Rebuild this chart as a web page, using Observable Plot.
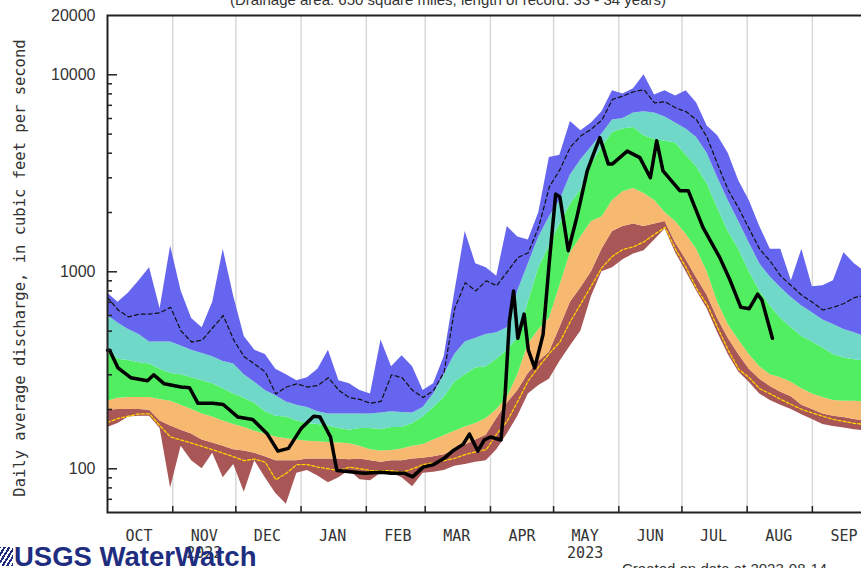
<!DOCTYPE html>
<html><head><meta charset="utf-8">
<script src="https://cdn.jsdelivr.net/npm/d3@7"></script>
<script src="https://cdn.jsdelivr.net/npm/@observablehq/plot@0.6"></script>
<style>
html,body{margin:0;padding:0;background:#fff;overflow:hidden;width:861px;height:568px}
#wrap{position:relative;width:861px;height:568px;overflow:hidden;background:#fff}
#chart{position:absolute;left:0;top:0;width:875px;height:568px}
#chart svg{max-width:none !important;width:875px !important;height:568px !important;display:block}
.title{position:absolute;left:0;width:896px;text-align:center;top:-8px;line-height:15px;font-size:15px;font-family:"Liberation Sans",Arial,sans-serif;color:#333;white-space:nowrap}
.ylab{position:absolute;left:-210px;top:259px;width:460px;height:18px;line-height:18px;text-align:center;transform:rotate(-90deg);font-family:"DejaVu Sans Mono",monospace;font-size:15.5px;color:#333;white-space:nowrap}
.mark{position:absolute;left:0;top:547px;width:13px;height:19px;background:repeating-linear-gradient(-58deg,#1f2d80 0 2px,transparent 2px 4px)}
.logo{position:absolute;left:14px;top:543px;line-height:27.5px;font-weight:bold;font-size:27.5px;font-family:"Liberation Sans",Arial,sans-serif;color:#1f2d80;letter-spacing:0;white-space:nowrap}
.created{position:absolute;left:622px;top:561px;line-height:15px;font-size:15px;font-family:"Liberation Sans",Arial,sans-serif;color:#333;white-space:nowrap}
</style></head><body>
<div id="wrap">
<div id="chart"></div>
<div class="title">(Drainage area: 650 square miles, length of record: 33 - 34 years)</div>
<div class="ylab">Daily average discharge, in cubic feet per second</div>
<div class="mark"></div>
<div class="logo">USGS WaterWatch</div>
<div class="created">Created on data at 2023-08-14</div>
</div>
<script>
// Day offsets from 2022-10-01 (water year 2023)
const gridDays = [0,5,10,15,20,25,30,35,40,45,50,55,60,65,70,75,80,85,90,95,100,105,110,115,120,125,130,135,140,145,150,155,160,165,170,175,180,185,190,195,200,205,210,215,220,225,230,235,240,245,250,255,260,265,270,275,280,285,290,295,300,305,310,315,320,325,330,335,340,345,350,355,360,365];

const maxQ = [780,700,780,900,1050,650,1350,800,580,520,
  700,1300,750,470,400,380,320,300,280,290,
  320,400,280,270,250,240,450,330,375,330,
  250,270,370,780,1600,1100,1050,950,1700,1500,
  1450,2000,3800,3900,5800,5200,5700,6500,8300,8000,
  8500,10000,7900,8300,7800,8300,7200,5500,4900,4000,
  2900,2300,1700,1300,1300,900,1300,840,850,900,
  1250,1100,1000,950];
const p95 = [740,640,590,610,610,620,660,500,440,450,
  520,600,450,370,340,310,240,260,270,260,
  265,290,250,230,225,215,220,300,290,250,
  230,250,310,650,880,800,900,850,1000,1180,
  1250,1700,2700,3300,4300,4900,5300,5900,7500,7800,
  8200,8400,7200,7300,6800,6500,5900,4800,3500,2600,
  2100,1650,1300,1130,950,850,760,700,640,660,
  690,740,760,760];
const p90 = [600,550,510,480,440,440,440,420,400,385,
  370,350,340,300,275,250,235,218,210,205,
  195,190,190,190,190,190,192,195,193,192,
  205,240,300,380,440,460,480,490,520,800,
  1100,1500,1900,2300,3100,3700,4300,5000,5900,6000,
  6400,6500,6400,6100,5700,5300,4800,4000,3000,2300,
  1800,1400,1100,940,830,740,670,620,570,540,
  510,490,470,460];
const p75 = [410,360,355,345,340,320,305,300,290,280,
  270,255,240,228,215,195,185,183,175,170,
  168,165,160,157,160,160,158,162,162,170,
  183,205,230,275,300,325,330,360,400,460,
  700,1050,1350,1750,2200,2600,3500,4300,5100,5300,
  5400,4900,4700,4600,4500,3900,3400,2800,2100,1600,
  1300,1000,800,670,580,520,470,440,410,380,
  365,358,352,350];
const p25 = [220,228,230,230,230,225,220,210,200,190,
  183,175,168,162,155,150,145,142,140,138,
  137,136,135,134,130,125,123,124,126,130,
  133,140,147,155,163,170,180,200,230,300,
  430,510,580,850,1250,1500,1800,1900,2300,2550,
  2650,2500,2300,2000,1800,1550,1300,1000,700,540,
  450,380,330,300,290,275,255,240,230,222,
  220,220,218,215];
const p10 = [198,200,200,200,198,175,165,157,150,140,
  135,130,125,123,120,115,110,110,110,112,
  112,112,112,111,112,110,108,110,110,112,
  113,115,118,125,132,140,148,180,215,250,
  305,350,390,520,700,830,1000,1300,1600,1700,
  1750,1700,1750,1800,1400,1150,930,760,580,460,
  380,320,285,262,245,232,210,200,190,185,
  182,178,175,173];
const p05 = [172,180,185,190,190,165,145,140,135,130,
  125,120,115,110,112,108,88,95,105,105,
  102,100,98,102,100,98,98,98,96,100,
  105,107,110,113,118,122,125,150,175,220,
  280,330,385,440,560,690,850,1050,1200,1300,
  1340,1420,1550,1680,1300,1050,820,680,520,400,
  320,290,255,240,225,212,200,192,185,178,
  174,170,168,166];
const minQ = [162,170,183,185,185,160,80,130,110,100,
  120,90,105,76,110,90,75,66,95,98,
  92,85,90,98,88,87,95,95,90,81,
  95,96,98,103,105,108,110,125,150,185,
  240,265,285,350,420,500,750,1000,1050,1150,
  1230,1280,1450,1650,1250,1000,800,650,490,380,
  310,275,240,222,210,200,188,178,168,164,
  161,158,156,155];

// Current water year daily flow (day offset, cfs)
const flowDays = [0,1,5,11,19,22,27,35,39,43,50,55,62,69,76,81,86,92,98,101,106,109,114,122,130,135,141,145,150,155,160,164,169,172,176,179,182,187,189,191,193,195,198,200,203,207,210,213,215,219,223,228,231,234,238,240,247,253,258,261,264,272,276,283,291,296,301,305,309,311,316];
const flowQ = [400,400,325,290,280,300,270,260,258,215,215,212,183,178,150,123,127,160,185,183,145,98,97,95,96,95,95,91,102,105,113,123,133,150,123,140,145,140,240,560,800,460,610,400,325,480,1130,2480,2400,1280,1880,3250,3970,4800,3530,3530,4100,3800,3000,4630,3250,2580,2580,1680,1180,900,660,650,770,720,460];

const monthLabels = ["OCT","NOV","DEC","JAN","FEB","MAR","APR","MAY","JUN","JUL","AUG","SEP"];
const yearLabels = ["2022","2023"];
const yTickLabels = [100,1000,10000,20000];
const majorTicks = [100,1000,10000];
const minorTicks = [70,80,90,200,300,400,500,600,700,800,900,2000,3000,4000,5000,6000,7000,8000,9000];

const colors = {max:"#6565f0", p90:"#6fd8c8", p25:"#52ee62", p10:"#f7b96f", min:"#a85656"};

const t0 = Date.UTC(2022,9,1);
const toDate = d => new Date(t0 + d*864e5);
const rows = gridDays.map((d,i)=>({date:toDate(d),min:minQ[i],p5:p05[i],p10:p10[i],p25:p25[i],p75:p75[i],p90:p90[i],p95:p95[i],max:maxQ[i]}));
const flow = flowDays.map((d,i)=>({date:toDate(d),q:flowQ[i]}));
const monthStarts = d3.utcMonth.range(new Date(Date.UTC(2022,10,1)), new Date(Date.UTC(2023,9,1)));
const monthMids = d3.range(12).map(i=>new Date(Date.UTC(2022,9+i,16)));
const yearDates = [new Date(Date.UTC(2022,10,16)), new Date(Date.UTC(2023,4,16))];

const W = 875, H = 568, ML = 107, MT = 15, MB = 56;
const innerW = W - ML, innerH = H - MT - MB;
const mono = "DejaVu Sans Mono, monospace";

const chart = Plot.plot({
  width: W, height: H, marginLeft: ML, marginRight: 0, marginTop: MT, marginBottom: MB,
  style: {background:"transparent", color:"#333", fontFamily:"Liberation Sans, Arial, sans-serif", maxWidth:"none"},
  x: {type:"utc", domain:[toDate(0), toDate(365)]},
  y: {type:"log", domain:[60,20000]},
  marks: [
    Plot.ruleX(monthStarts, {x:d=>d, stroke:"#d9d9d9", strokeWidth:1.5}),
    Plot.areaY(rows, {x:"date", y1:"min", y2:"p10", fill:colors.min}),
    Plot.areaY(rows, {x:"date", y1:"p10", y2:"p25", fill:colors.p10}),
    Plot.areaY(rows, {x:"date", y1:"p25", y2:"p75", fill:colors.p25}),
    Plot.areaY(rows, {x:"date", y1:"p75", y2:"p90", fill:colors.p90}),
    Plot.areaY(rows, {x:"date", y1:"p90", y2:"max", fill:colors.max}),
    Plot.lineY(rows, {x:"date", y:"p95", stroke:"#111", strokeWidth:1.2, strokeDasharray:"4,3"}),
    Plot.lineY(rows, {x:"date", y:"p5", stroke:"#ffd400", strokeWidth:1.3, strokeDasharray:"3,2"}),
    Plot.lineY(flow, {x:"date", y:"q", stroke:"#000", strokeWidth:3.5, strokeLinejoin:"round"}),
    Plot.tickY(majorTicks, {y:d=>d, stroke:"#222", strokeWidth:1.5, insetRight: innerW - 10}),
    Plot.tickY(minorTicks, {y:d=>d, stroke:"#222", strokeWidth:1.5, insetRight: innerW - 5}),
    Plot.tickX(monthStarts, {x:d=>d, stroke:"#222", strokeWidth:1.5, insetTop: innerH - 6}),
    Plot.frame({stroke:"#222", strokeWidth:2}),
    Plot.axisY({ticks: yTickLabels, tickFormat: d=>String(d), tickSize:0, tickPadding:12, fontSize:16, label:null}),
    Plot.axisX({ticks: monthMids, tickFormat: d=>monthLabels[(d.getUTCMonth()+3)%12], tickSize:0, tickPadding:18, fontSize:15, fontFamily:mono, label:null}),
    Plot.axisX({ticks: yearDates, tickFormat: d=>yearLabels[d.getUTCFullYear()-2022], tickSize:0, tickPadding:35, fontSize:15, fontFamily:mono, label:null})
  ]
});
document.getElementById("chart").appendChild(chart);
</script>
</body></html>
